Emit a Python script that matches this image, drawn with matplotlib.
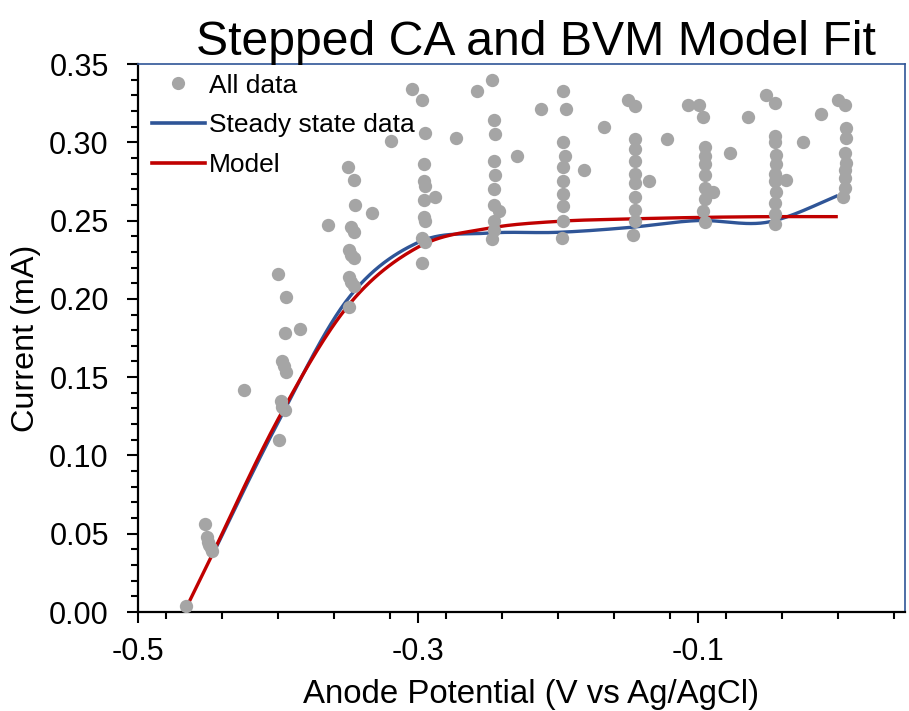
import matplotlib
matplotlib.use("Agg")
import matplotlib.pyplot as plt
from matplotlib.lines import Line2D
from matplotlib.ticker import MultipleLocator, FixedLocator, FormatStrFormatter
import numpy as np

# all measured points (V vs Ag/AgCl, mA)
all_x = [-0.466,
         -0.452, -0.451, -0.450, -0.449, -0.448, -0.447,
         -0.400, -0.394, -0.395, -0.384, -0.397, -0.396, -0.394, -0.424, -0.398, -0.397, -0.395, -0.399,
         -0.350, -0.346, -0.364, -0.345, -0.333, -0.348, -0.346, -0.349, -0.348, -0.346, -0.349, -0.348, -0.346, -0.349,
         -0.304, -0.297, -0.319, -0.295, -0.296, -0.296, -0.295, -0.296, -0.288, -0.296, -0.295, -0.297, -0.295, -0.297, -0.273,
         -0.247, -0.258, -0.246, -0.245, -0.246, -0.245, -0.246, -0.246, -0.242, -0.246, -0.246, -0.247, -0.229,
         -0.196, -0.212, -0.194, -0.167, -0.196, -0.195, -0.196, -0.196, -0.196, -0.196, -0.196, -0.197, -0.181,
         -0.150, -0.145, -0.145, -0.145, -0.145, -0.145, -0.145, -0.135, -0.145, -0.145, -0.145, -0.146, -0.122,
         -0.107, -0.099, -0.096, -0.064, -0.095, -0.095, -0.095, -0.095, -0.095, -0.089, -0.095, -0.096, -0.095, -0.077,
         -0.051, -0.045, -0.045, -0.045, -0.044, -0.044, -0.045, -0.045, -0.044, -0.045, -0.045, -0.045, -0.037, -0.025,
         0.000, 0.005, -0.012, 0.006, 0.006, 0.005, 0.006, 0.005, 0.005, 0.005, 0.004]
all_y = [0.004,
         0.056, 0.048, 0.045, 0.043, 0.041, 0.039,
         0.216, 0.201, 0.178, 0.181, 0.160, 0.157, 0.153, 0.142, 0.135, 0.131, 0.129, 0.110,
         0.284, 0.276, 0.247, 0.260, 0.255, 0.246, 0.243, 0.231, 0.228, 0.226, 0.214, 0.211, 0.208, 0.195,
         0.334, 0.327, 0.301, 0.306, 0.286, 0.275, 0.272, 0.263, 0.265, 0.252, 0.250, 0.239, 0.236, 0.223, 0.303,
         0.340, 0.333, 0.314, 0.305, 0.288, 0.279, 0.270, 0.260, 0.256, 0.250, 0.244, 0.238, 0.291,
         0.333, 0.321, 0.321, 0.310, 0.300, 0.291, 0.284, 0.275, 0.267, 0.259, 0.250, 0.239, 0.282,
         0.327, 0.323, 0.302, 0.296, 0.288, 0.280, 0.274, 0.275, 0.265, 0.257, 0.250, 0.241, 0.302,
         0.324, 0.324, 0.316, 0.316, 0.297, 0.291, 0.286, 0.279, 0.271, 0.268, 0.264, 0.256, 0.249, 0.293,
         0.330, 0.325, 0.304, 0.300, 0.292, 0.286, 0.280, 0.275, 0.268, 0.261, 0.254, 0.248, 0.276, 0.300,
         0.327, 0.324, 0.318, 0.309, 0.303, 0.293, 0.287, 0.282, 0.277, 0.271, 0.265]

# steady state values at each step
ss_x = [-0.447, -0.40, -0.35, -0.30, -0.25, -0.20, -0.15, -0.10, -0.05, 0.0]
ss_y = [0.036, 0.121, 0.200, 0.236, 0.242, 0.2425, 0.2455, 0.250, 0.249, 0.266]

# BVM model
model_x = [-0.467, -0.45, -0.40, -0.35, -0.30, -0.25, -0.20, -0.15, -0.10, -0.05, 0.0]
model_y = [0.0, 0.031, 0.123, 0.1955, 0.233, 0.245, 0.2495, 0.251, 0.252, 0.2525, 0.2525]

GREY = '#A5A5A5'
BLUE = '#2F5597'
RED = '#C00000'


def smooth(xs, ys, n=30):
    # excel style smoothed line (cardinal bezier)
    P = np.column_stack([xs, ys])
    out = []
    for i in range(len(P) - 1):
        p0 = P[i - 1] if i > 0 else P[i]
        p1 = P[i]
        p2 = P[i + 1]
        p3 = P[i + 2] if i + 2 < len(P) else P[i + 1]
        c1 = p1 + (p2 - p0) / 6
        c2 = p2 - (p3 - p1) / 6
        t = np.linspace(0, 1, n)[:, None]
        seg = (1 - t) ** 3 * p1 + 3 * (1 - t) ** 2 * t * c1 + 3 * (1 - t) * t ** 2 * c2 + t ** 3 * p2
        out.append(seg if i == 0 else seg[1:])
    return np.vstack(out)


plt.rcParams['font.family'] = ['Liberation Sans', 'DejaVu Sans']

fig = plt.figure(figsize=(9.09, 7.11), dpi=100)
ax = fig.add_axes([138 / 909, 99 / 711, 767 / 909, 548 / 711])

s = smooth(ss_x, ss_y)
m = smooth(model_x, model_y)
ax.plot(s[:, 0], s[:, 1], color=BLUE, lw=2.4, zorder=2, solid_capstyle='butt')
ax.plot(m[:, 0], m[:, 1], color=RED, lw=2.4, zorder=3, solid_capstyle='butt')
ax.scatter(all_x, all_y, s=92, color=GREY, zorder=4, linewidths=0)

ax.set_xlim(-0.5, 0.048)
ax.set_ylim(0, 0.35)
ax.xaxis.set_major_locator(FixedLocator([-0.5, -0.3, -0.1]))
ax.xaxis.set_minor_locator(MultipleLocator(0.04))
ax.xaxis.set_major_formatter(FormatStrFormatter('%.1f'))
ax.yaxis.set_major_locator(FixedLocator([0, 0.05, 0.10, 0.15, 0.20, 0.25, 0.30, 0.35]))
ax.yaxis.set_minor_locator(MultipleLocator(0.01))
ax.yaxis.set_major_formatter(FormatStrFormatter('%.2f'))
ax.tick_params(which='major', length=8, width=1.5, labelsize=22, pad=13, direction='out')
ax.tick_params(axis='x', which='major', pad=10)
ax.tick_params(which='minor', length=5, width=1.5, direction='out')

for side in ['left', 'bottom']:
    ax.spines[side].set_linewidth(1.6)
    ax.spines[side].set_color('black')
for side in ['top', 'right']:
    ax.spines[side].set_linewidth(1.2)
    ax.spines[side].set_color(BLUE)

fig.text(536 / 909, 1 - 55 / 711, 'Stepped CA and BVM Model Fit', fontsize=34.7,
         ha='center', va='baseline')
fig.text(531 / 909, 1 - 703 / 711, 'Anode Potential (V vs Ag/AgCl)', fontsize=23.8,
         ha='center', va='baseline')
fig.text(26 / 909, 1 - 338 / 711, 'Current (mA)', fontsize=23.3, rotation=90,
         ha='center', va='center')

handles = [Line2D([], [], ls='none', marker='o', ms=9.5, color=GREY, mec='none'),
           Line2D([], [], color=BLUE, lw=2.6),
           Line2D([], [], color=RED, lw=2.6)]
ax.legend(handles, ['All data', 'Steady state data', 'Model'], loc='upper left',
          bbox_to_anchor=(-0.013, 1.026), frameon=False, fontsize=19,
          handlelength=2.0, handletextpad=0.18, labelspacing=0.6, borderpad=0.4)

fig.savefig('out.png', dpi=100)
